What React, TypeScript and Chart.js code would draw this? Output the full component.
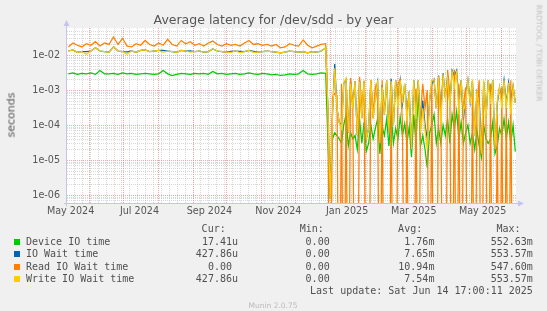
import React, { useEffect, useRef } from 'react';
import { Chart, registerables } from 'chart.js';

Chart.register(...registerables);

// x values are days counted from 2025-01-01
const X_MIN_DAY = -233.2;
const X_MAX_DAY = 164.6;
const steadyStartDay = -232; // 2024-05-14
const steadyStepDays = 4;
const burstStartDay = -2; // 2024-12-30
const burstStepDays = 2;

// y axis limits (seconds, log scale)
const Y_MIN = 5.91e-7;
const Y_MAX = 0.0591;
const yTickValues = [1e-6, 1e-5, 1e-4, 1e-3, 1e-2];

const xTickLabels = ['May 2024', 'Jul 2024', 'Sep 2024', 'Nov 2024', 'Jan 2025', 'Mar 2025', 'May 2025'];
const xTickMonths = [[2024, 5], [2024, 7], [2024, 9], [2024, 11], [2025, 1], [2025, 3], [2025, 5]];

// ---- steady period (May - Dec 2024), one value every 4 days ----
const steadyDevice = [
  0.0029, 0.0031, 0.0028, 0.0030, 0.0029, 0.0031, 0.0028, 0.0036, 0.0029, 0.0029,
  0.0030, 0.0028, 0.0031, 0.0029, 0.0030, 0.0028, 0.0029, 0.0030, 0.0029, 0.0028,
  0.0029, 0.0036, 0.0029, 0.0026, 0.0028, 0.0030, 0.0029, 0.0028, 0.0030, 0.0029,
  0.0030, 0.0028, 0.0034, 0.0029, 0.0030, 0.0028, 0.0029, 0.0030, 0.0028, 0.0029,
  0.0031, 0.0029, 0.0028, 0.0030, 0.0029, 0.0027, 0.0028, 0.0026, 0.0027, 0.0029,
  0.0028, 0.0029, 0.0036, 0.0029, 0.0028, 0.0029, 0.0031, 0.0030,
];
const steadyWait = [
  0.013, 0.014, 0.012, 0.0125, 0.0125, 0.013, 0.016, 0.013, 0.0125, 0.012,
  0.017, 0.013, 0.0125, 0.0122, 0.013, 0.012, 0.0135, 0.014, 0.0125, 0.013,
  0.0135, 0.0135, 0.013, 0.0125, 0.012, 0.0135, 0.013, 0.0132, 0.0125, 0.013,
  0.012, 0.0125, 0.015, 0.013, 0.0125, 0.012, 0.0128, 0.013, 0.0128, 0.0125,
  0.0135, 0.0128, 0.012, 0.0125, 0.013, 0.0125, 0.012, 0.0115, 0.012, 0.013,
  0.0125, 0.012, 0.0125, 0.0115, 0.0125, 0.012, 0.013, 0.016,
];
const steadyRead = [
  0.017, 0.022, 0.019, 0.017, 0.021, 0.019, 0.024, 0.018, 0.022, 0.020,
  0.033, 0.020, 0.030, 0.018, 0.017, 0.021, 0.019, 0.026, 0.020, 0.018,
  0.022, 0.019, 0.028, 0.020, 0.018, 0.026, 0.021, 0.024, 0.019, 0.021,
  0.018, 0.022, 0.025, 0.020, 0.018, 0.021, 0.019, 0.020, 0.018, 0.022,
  0.026, 0.020, 0.021, 0.019, 0.020, 0.018, 0.020, 0.016, 0.017, 0.021,
  0.019, 0.018, 0.027, 0.019, 0.016, 0.018, 0.020, 0.021,
];
const steadyWrite = [
  0.013, 0.014, 0.012, 0.0125, 0.0105, 0.013, 0.016, 0.013, 0.0125, 0.012,
  0.017, 0.013, 0.0125, 0.0105, 0.013, 0.012, 0.0135, 0.014, 0.0125, 0.013,
  0.0135, 0.012, 0.013, 0.0125, 0.012, 0.0135, 0.013, 0.012, 0.0125, 0.013,
  0.012, 0.0125, 0.015, 0.013, 0.0125, 0.012, 0.0118, 0.013, 0.0118, 0.0125,
  0.0135, 0.0118, 0.012, 0.0125, 0.013, 0.0125, 0.012, 0.0115, 0.012, 0.013,
  0.0125, 0.012, 0.0125, 0.0115, 0.0125, 0.012, 0.013, 0.016,
];

// ---- bursty period (Dec 2024 - Jun 2025), one value every 2 days ----
const burstDevice = [
  3e-5, 1.2e-6, 4e-5, 6e-5, 5e-5, 4e-5, 3e-5, 1e-4, 2e-4, 2.5e-5,
  6e-5, 4e-5, 5e-5, 2e-5, 1.5e-4, 3e-5, 1.2e-4, 1.8e-5, 3e-5, 1e-4,
  4e-5, 8e-5, 1.5e-4, 1.5e-5, 9e-5, 5e-5, 1.5e-4, 2.5e-5, 2e-4, 3e-5,
  8e-5, 4e-5, 1.7e-4, 5e-5, 1.1e-4, 3e-5, 9e-5, 1.2e-5, 2e-4, 3e-5,
  9e-4, 2.5e-5, 5e-5, 2e-5, 6e-6, 6e-5, 1e-4, 2e-4, 3e-5, 8e-5,
  3e-5, 1e-4, 5e-5, 1.5e-4, 3e-5, 2e-4, 8e-5, 2.5e-4, 4e-5, 1.2e-4,
  3e-5, 6e-5, 1e-4, 3e-5, 6e-5, 2e-5, 7e-5, 2.5e-5, 1.2e-5, 1e-4,
  4e-5, 3e-5, 4e-5, 1.2e-4, 1.5e-5, 2.5e-5, 8e-5, 5e-5, 1.5e-4, 4e-5,
  1.2e-4, 3e-5, 1e-4, 1.741e-5,
];
const burstWait = [
  2.4e-4, 8e-7, 2e-4, 5.5e-3, 3e-4, 1.2e-4, 1e-4, 1.6e-3, 2e-3, 6e-5,
  1.8e-3, 3.2e-4, 1.8e-3, 5e-5, 1.9e-3, 1.6e-4, 1.8e-3, 4e-5, 8e-5, 1.9e-3,
  1.6e-4, 8e-4, 1.7e-3, 3e-5, 1.4e-3, 2e-4, 1.9e-3, 6e-5, 2.1e-3, 1e-4,
  1.9e-3, 5e-4, 1.9e-3, 4e-4, 1.5e-3, 2e-4, 9e-4, 2e-5, 1.9e-3, 3e-4,
  1.9e-3, 8e-5, 5e-4, 1e-4, 4e-5, 5e-4, 1.5e-3, 2e-3, 3e-4, 2.6e-3,
  2e-4, 3e-3, 6e-4, 2.5e-3, 4e-4, 3.6e-3, 2.5e-3, 3.6e-3, 5e-4, 1.9e-3,
  1.4e-4, 7e-4, 1.9e-3, 4.6e-4, 1.8e-3, 5e-5, 9e-4, 6e-4, 1.5e-5, 1.7e-3,
  1.6e-4, 1.9e-3, 6e-4, 1.9e-3, 2e-5, 4e-4, 1.2e-3, 5e-4, 1.9e-3, 4e-4,
  1.6e-3, 5e-4, 1.3e-3, 4.2786e-4,
];
const burstRead = [
  2.5e-4, 0, 6e-4, 8e-4, 7e-4, 0, 1.5e-3, 0, 1.2e-3, 0,
  2.2e-3, 4e-4, 0, 0, 2.4e-3, 3e-4, 1.6e-3, 0, 0, 1.9e-3,
  2e-4, 1.2e-3, 5e-4, 0, 1.9e-3, 0, 0, 0, 8e-4, 0,
  0, 1.5e-3, 2e-3, 1.2e-4, 0, 5e-4, 0, 0, 0, 1.1e-3,
  0, 2e-4, 1.5e-3, 3e-4, 1e-3, 0, 1.5e-3, 0, 0, 2.5e-3,
  4e-4, 0, 0, 3.7e-3, 8e-4, 0, 3.8e-3, 0, 1.5e-3, 0,
  4e-4, 1.2e-3, 0, 0, 9e-4, 0, 4e-4, 1.9e-3, 0, 1.1e-3,
  2e-4, 0, 1.5e-3, 0, 0, 2e-4, 0, 1.2e-3, 0, 6e-4,
  0, 1.9e-3, 0, 0,
];
const burstWrite = [
  2.4e-4, 8e-7, 2e-4, 4.2e-3, 3e-4, 1.2e-4, 8e-5, 1.6e-3, 2.2e-3, 6e-5,
  1.5e-3, 3e-4, 1.8e-3, 5e-5, 1.7e-3, 1.5e-4, 1.9e-3, 4e-5, 8e-5, 2e-3,
  1.5e-4, 6e-4, 1.9e-3, 3e-5, 1.2e-3, 2e-4, 1.9e-3, 6e-5, 1.8e-3, 1e-4,
  1.9e-3, 3e-4, 1.9e-3, 5e-4, 1.5e-3, 1.3e-4, 9e-4, 2e-5, 1.9e-3, 1.5e-4,
  1.9e-3, 6e-5, 3e-4, 7e-5, 2e-5, 5e-4, 1.9e-3, 2e-3, 3e-4, 2.4e-3,
  1e-4, 2.8e-3, 6e-4, 2e-3, 3.5e-4, 3.6e-3, 1.2e-3, 3.6e-3, 2e-4, 1.9e-3,
  2.3e-4, 5e-4, 1.9e-3, 4e-4, 2e-3, 5e-5, 1e-3, 3e-4, 1.5e-5, 1.9e-3,
  1.5e-4, 1.9e-3, 4e-4, 1.9e-3, 2e-5, 5e-4, 1.2e-3, 3e-4, 1.9e-3, 3e-4,
  1.6e-3, 2e-4, 1.3e-3, 4.2786e-4,
];

const seriesNames = ['Device IO time', 'IO Wait time', 'Read IO Wait time', 'Write IO Wait time'];
const seriesColors = ['#00cc00', '#0066b3', '#ff8000', '#ffcc00'];
const curValues = ['17.41u', '427.86u', '0.00 ', '427.86u'];
const minValues = ['0.00 ', '0.00 ', '0.00 ', '0.00 '];
const avgValues = ['1.76m', '7.65m', '10.94m', '7.54m'];
const maxValues = ['552.63m', '553.57m', '547.60m', '553.57m'];
const lastUpdate = 'Last update: Sat Jun 14 17:00:11 2025';

const DAY_MS = 86400000;
const dayOf = (y: number, m: number, d: number) => (Date.UTC(y, m - 1, d) - Date.UTC(2025, 0, 1)) / DAY_MS;

const rrdGrid = {
  id: 'rrdGrid',
  beforeDatasetsDraw(chart: any) {
    const { ctx, chartArea: a, scales } = chart;
    const x = scales.x, y = scales.y;
    ctx.save();
    ctx.fillStyle = '#ffffff';
    ctx.fillRect(a.left, a.top, a.right - a.left, a.bottom - a.top);
    ctx.lineWidth = 1;
    ctx.setLineDash([1, 1]);
    const minorC = 'rgba(190,190,190,0.6)';
    const majorC = 'rgba(235,140,140,0.75)';
    // minor horizontal
    ctx.strokeStyle = minorC;
    for (let e = -7; e <= -1; e++) {
      for (let m = 2; m <= 9; m++) {
        const v = m * Math.pow(10, e);
        if (v < y.min || v > y.max) continue;
        const py = Math.round(y.getPixelForValue(v)) + 0.5;
        ctx.beginPath(); ctx.moveTo(a.left, py); ctx.lineTo(a.right, py); ctx.stroke();
      }
    }
    // minor vertical (weekly, Sundays)
    for (let d = 4 - 7 * 40; d <= X_MAX_DAY; d += 7) {
      if (d < X_MIN_DAY) continue;
      const px = Math.round(x.getPixelForValue(d)) + 0.5;
      ctx.beginPath(); ctx.moveTo(px, a.top); ctx.lineTo(px, a.bottom); ctx.stroke();
    }
    // major
    ctx.strokeStyle = majorC;
    for (let e = -7; e <= -1; e++) {
      const v = Math.pow(10, e);
      if (v < y.min || v > y.max) continue;
      const py = Math.round(y.getPixelForValue(v)) + 0.5;
      ctx.beginPath(); ctx.moveTo(a.left, py); ctx.lineTo(a.right, py); ctx.stroke();
    }
    for (let k = 0; k < 16; k++) {
      const mm = 5 + k;
      const d = mm > 12 ? dayOf(2025, mm - 12, 1) : dayOf(2024, mm, 1);
      if (d < X_MIN_DAY || d > X_MAX_DAY) continue;
      const px = Math.round(x.getPixelForValue(d)) + 0.5;
      ctx.beginPath(); ctx.moveTo(px, a.top); ctx.lineTo(px, a.bottom); ctx.stroke();
    }
    ctx.restore();
  },
  afterDatasetsDraw(chart: any) {
    const { ctx, chartArea: a } = chart;
    ctx.save();
    const c = '#c4c4ee';
    ctx.strokeStyle = c;
    ctx.fillStyle = c;
    ctx.lineWidth = 1;
    const lx = a.left - 0.5;
    const by = a.bottom + 0.5;
    ctx.beginPath(); ctx.moveTo(lx, by + 3); ctx.lineTo(lx, a.top - 3); ctx.stroke();
    ctx.beginPath(); ctx.moveTo(lx - 3, a.top - 2); ctx.lineTo(lx + 3, a.top - 2); ctx.lineTo(lx, a.top - 8); ctx.closePath(); ctx.fill();
    ctx.beginPath(); ctx.moveTo(a.left - 3, by); ctx.lineTo(a.right + 3, by); ctx.stroke();
    ctx.beginPath(); ctx.moveTo(a.right + 2, by - 3); ctx.lineTo(a.right + 2, by + 3); ctx.lineTo(a.right + 8, by); ctx.closePath(); ctx.fill();
    ctx.restore();
  },
};

const ZERO_FLOOR = 1e-12; // zeros drawn to the bottom of the log axis

function buildPoints(steady: number[], burst: number[]) {
  const pts: { x: number; y: number }[] = [];
  steady.forEach((v, i) => pts.push({ x: steadyStartDay + i * steadyStepDays, y: v > 0 ? v : ZERO_FLOOR }));
  burst.forEach((v, i) => pts.push({ x: burstStartDay + i * burstStepDays, y: v > 0 ? v : ZERO_FLOOR }));
  return pts;
}

export default function App() {
  const canvasRef = useRef<HTMLCanvasElement>(null);

  useEffect(() => {
    document.body.style.margin = '0';
    const canvas = canvasRef.current;
    if (!canvas) return;
    const series = [
      buildPoints(steadyDevice, burstDevice),
      buildPoints(steadyWait, burstWait),
      buildPoints(steadyRead, burstRead),
      buildPoints(steadyWrite, burstWrite),
    ];
    const xTickDays = xTickMonths.map(([y, m]) => dayOf(y, m, 1) + 15);
    const chart = new Chart(canvas, {
      type: 'line',
      data: {
        datasets: series.map((data, i) => ({
          label: seriesNames[i],
          data,
          borderColor: seriesColors[i],
          backgroundColor: seriesColors[i],
          borderWidth: 1.25,
          pointRadius: 0,
          tension: 0,
          fill: false,
          order: 4 - i,
        })),
      },
      options: {
        animation: false,
        responsive: false,
        devicePixelRatio: 1,
        events: [],
        layout: { padding: { left: 0, right: 31, top: 28, bottom: 0 } },
        plugins: { legend: { display: false }, tooltip: { enabled: false }, title: { display: false } },
        scales: {
          x: {
            type: 'linear',
            position: 'bottom',
            min: X_MIN_DAY,
            max: X_MAX_DAY,
            grid: { display: false, drawTicks: false },
            border: { display: false },
            afterBuildTicks: (s: any) => { s.ticks = xTickDays.map((v) => ({ value: v })); },
            afterFit: (s: any) => { s.height = 108; },
            ticks: {
              autoSkip: false,
              maxRotation: 0,
              minRotation: 0,
              padding: 3,
              color: '#555',
              font: { family: 'DejaVu Sans', size: 9.6 },
              callback: (_v: any, i: number) => xTickLabels[i],
            },
          },
          y: {
            type: 'logarithmic',
            min: Y_MIN,
            max: Y_MAX,
            grid: { display: false, drawTicks: false },
            border: { display: false },
            afterBuildTicks: (s: any) => { s.ticks = yTickValues.map((v) => ({ value: v })); },
            afterFit: (s: any) => { s.width = 67; },
            ticks: {
              padding: 7,
              color: '#555',
              font: { family: 'DejaVu Sans', size: 9.6 },
              callback: (v: any) => {
                const e = Math.round(Math.log10(Number(v)));
                return '1e' + (e < 0 ? '-' : '+') + String(Math.abs(e)).padStart(2, '0');
              },
            },
          },
        },
      } as any,
      plugins: [rrdGrid],
    });
    return () => chart.destroy();
  }, []);

  const mono = "'DejaVu Sans Mono', monospace";
  const sans = "'DejaVu Sans', sans-serif";
  const tc = '#505050';
  const rowCenters = [241.8, 254.2, 266.6, 279.0];
  const cell = (text: string, right: number, center: number, key: string) => (
    <div key={key} style={{ position: 'absolute', right: 547 - right, top: center - 6, height: 12, lineHeight: '12px', font: `10px ${mono}`, color: tc, whiteSpace: 'pre', textAlign: 'right' }}>{text}</div>
  );

  return (
    <div style={{ position: 'absolute', left: 0, top: 0, width: 547, height: 311, background: '#f0f0f0', overflow: 'hidden' }}>
      <canvas ref={canvasRef} width={547} height={311} style={{ position: 'absolute', left: 0, top: 0, width: 547, height: 311 }} />
      <div style={{ position: 'absolute', left: 0, width: 547, top: 12, lineHeight: '15px', textAlign: 'center', font: `12.5px ${sans}`, color: '#555', whiteSpace: 'pre' }}>Average latency for /dev/sdd - by year</div>
      <div style={{ position: 'absolute', left: 11, top: 115, transform: 'translate(-50%,-50%) rotate(-90deg)', font: `11px ${sans}`, color: '#555', whiteSpace: 'pre', lineHeight: '13px' }}>seconds</div>
      <div style={{ position: 'absolute', left: 538.5, top: 53, transform: 'translate(-50%,-50%) rotate(90deg)', font: `7.5px ${sans}`, color: '#c0c0c0', whiteSpace: 'pre', lineHeight: '9px' }}>RRDTOOL / TOBI OETIKER</div>
      {cell('Cur:', 225.7, 229.3, 'hc')}
      {cell('Min:', 323.8, 229.3, 'hn')}
      {cell('Avg:', 422.2, 229.3, 'ha')}
      {cell('Max:', 520.6, 229.3, 'hx')}
      {seriesNames.map((name, i) => (
        <React.Fragment key={name}>
          <div style={{ position: 'absolute', left: 14, top: rowCenters[i] - 3, width: 6, height: 6, background: seriesColors[i] }} />
          <div style={{ position: 'absolute', left: 26, top: rowCenters[i] - 6, height: 12, lineHeight: '12px', font: `10px ${mono}`, color: tc, whiteSpace: 'pre' }}>{name}</div>
          {cell(curValues[i], 238, rowCenters[i], 'c' + i)}
          {cell(minValues[i], 335.7, rowCenters[i], 'n' + i)}
          {cell(avgValues[i], 434.4, rowCenters[i], 'a' + i)}
          {cell(maxValues[i], 532.8, rowCenters[i], 'x' + i)}
        </React.Fragment>
      ))}
      {cell(lastUpdate, 532.8, 291.4, 'lu')}
      <div style={{ position: 'absolute', left: 273, top: 305.3, transform: 'translate(-50%,-50%)', font: `7.5px ${sans}`, color: '#bbbbbb', whiteSpace: 'pre', lineHeight: '9px' }}>Munin 2.0.75</div>
    </div>
  );
}
